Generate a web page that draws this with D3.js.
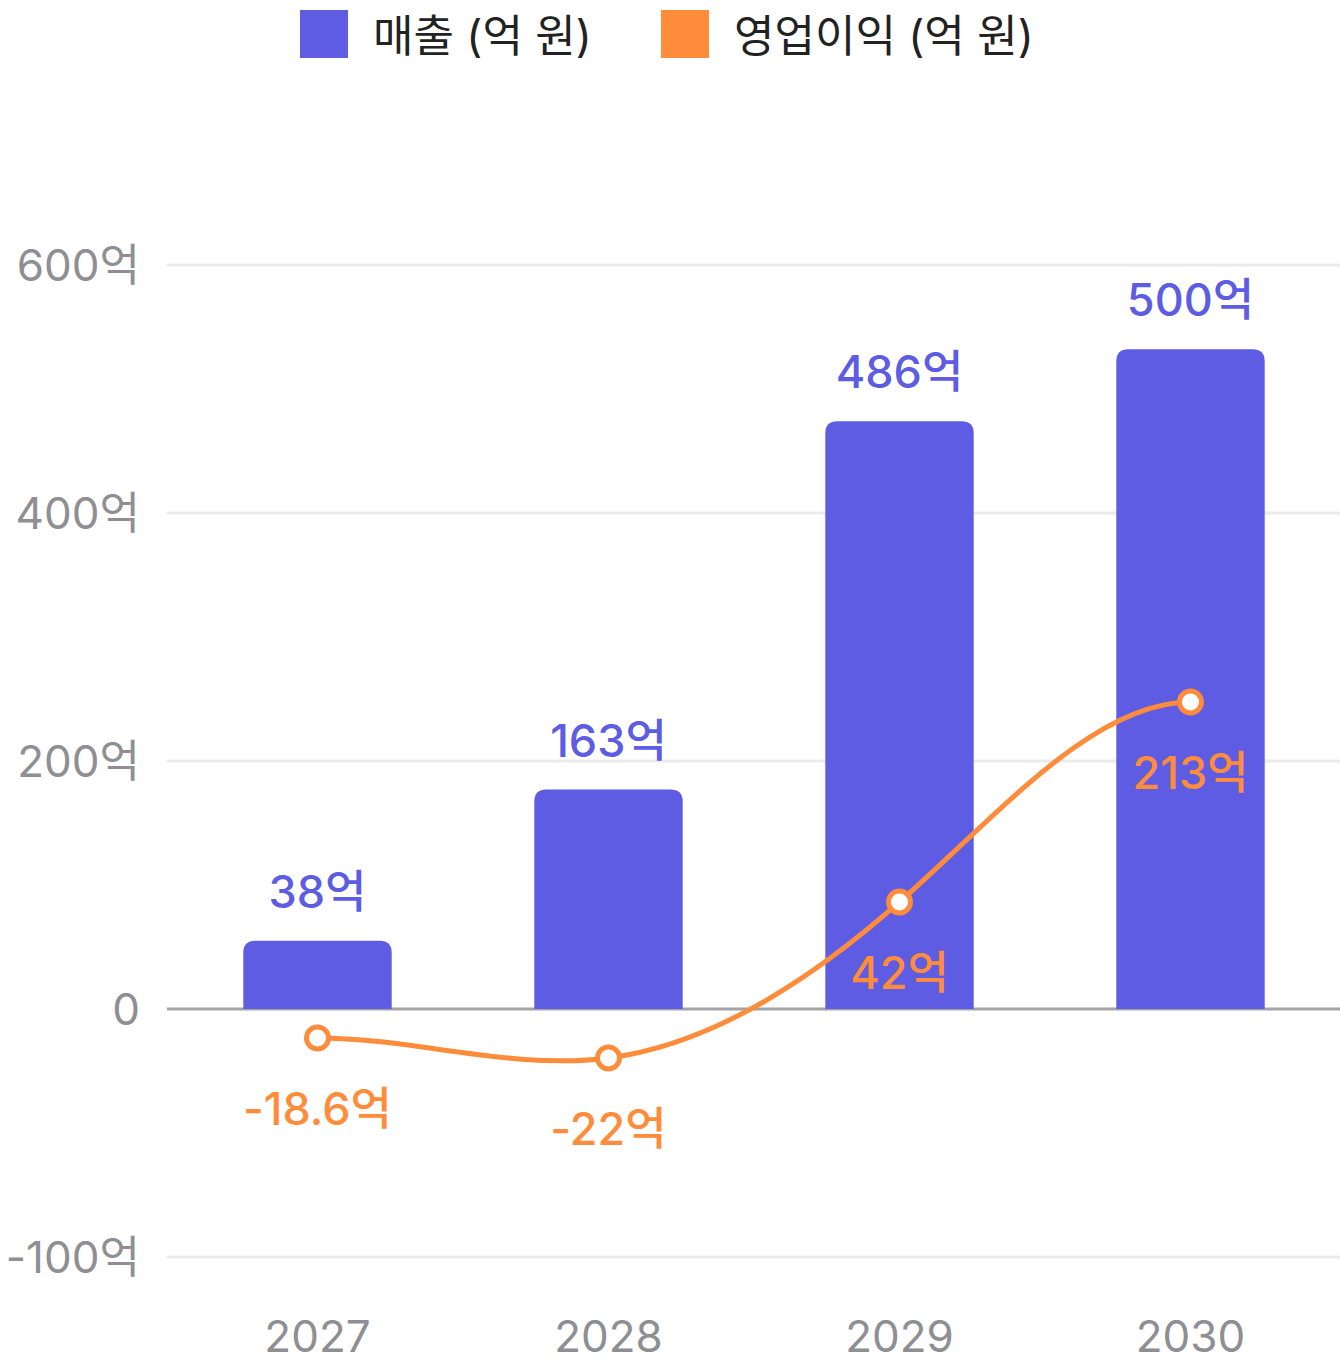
<!DOCTYPE html>
<html>
<head>
<meta charset="utf-8">
<script src="https://cdn.jsdelivr.net/npm/d3@7"></script>
<style>
    body { margin: 0; background: #fff; }
    svg { display: block; font-family: "Inter", "Noto Sans CJK KR", sans-serif; }
</style>
</head>
<body>
<svg id="chart"></svg>
<script>
const years = ['2027', '2028', '2029', '2030'];

// bar heights and line points as they sit on the axis
const revenue = [55, 177, 474, 532];
const profit = [-23.4, -39.5, 86.3, 247.6];

// value labels printed on the chart
const revenueLabels = ['38억', '163억', '486억', '500억'];
const profitLabels = ['-18.6억', '-22억', '42억', '213억'];

const tickValues = [600, 400, 200, 0, -200];
const tickLabels = ['600억', '400억', '200억', '0', '-100억'];

const seriesNames = ['매출 (억 원)', '영업이익 (억 원)'];
const seriesColors = ['#5D5CE3', '#FF8C3B'];

const width = 1340;
const height = 1368;

const svg = d3.select("#chart")
    .attr("width", width)
    .attr("height", height);

const x = d3.scaleBand()
    .domain(years)
    .range([172, 1336])
    .paddingInner(0.49)
    .paddingOuter(0.245);

const y = d3.scaleLinear()
    .domain([-200, 600])
    .range([1257, 265]);

// cubic spline with flat ends, used as a d3 line curve
function splineFlatEnds(context) {
    let pts = [];
    return {
        areaStart() {},
        areaEnd() {},
        lineStart() { pts = []; },
        point(px, py) { pts.push([+px, +py]); },
        lineEnd() {
            const n = pts.length;
            if (!n) return;
            context.moveTo(pts[0][0], pts[0][1]);
            if (n === 1) return;
            const h = [], s = [];
            for (let i = 0; i < n - 1; i++) {
                h.push(pts[i + 1][0] - pts[i][0]);
                s.push((pts[i + 1][1] - pts[i][1]) / h[i]);
            }
            // solve for slopes with m[0] = m[n-1] = 0
            const m = new Array(n).fill(0);
            const k = n - 2;
            if (k > 0) {
                const a = [], b = [], c = [], d = [];
                for (let j = 0; j < k; j++) {
                    const i = j + 1;
                    a.push(h[i]);
                    b.push(2 * (h[i - 1] + h[i]));
                    c.push(h[i - 1]);
                    d.push(3 * (h[i] * s[i - 1] + h[i - 1] * s[i]));
                }
                for (let j = 1; j < k; j++) {
                    const w = a[j] / b[j - 1];
                    b[j] -= w * c[j - 1];
                    d[j] -= w * d[j - 1];
                }
                m[k] = d[k - 1] / b[k - 1];
                for (let j = k - 2; j >= 0; j--) {
                    m[j + 1] = (d[j] - c[j] * m[j + 2]) / b[j];
                }
            }
            for (let i = 0; i < n - 1; i++) {
                const [x0, y0] = pts[i];
                const [x1, y1] = pts[i + 1];
                const dx = h[i] / 3;
                context.bezierCurveTo(x0 + dx, y0 + m[i] * dx, x1 - dx, y1 - m[i + 1] * dx, x1, y1);
            }
        }
    };
}

// gridlines
svg.append("g")
    .selectAll("line")
    .data(tickValues)
    .enter()
    .append("line")
    .attr("x1", 167)
    .attr("x2", width)
    .attr("y1", d => y(d))
    .attr("y2", d => y(d))
    .attr("stroke", d => d === 0 ? "#A3A3A8" : "#EBEBEB")
    .attr("stroke-width", 3);

// y tick labels
svg.append("g")
    .selectAll("text")
    .data(tickValues)
    .enter()
    .append("text")
    .attr("x", 140)
    .attr("y", d => y(d))
    .attr("dy", "0.36em")
    .attr("text-anchor", "end")
    .attr("fill", "#8E8E93")
    .style("font-size", "44px")
    .text((d, i) => tickLabels[i]);

// x tick labels
svg.append("g")
    .selectAll("text")
    .data(years)
    .enter()
    .append("text")
    .attr("x", d => x(d) + x.bandwidth() / 2)
    .attr("y", 1352)
    .attr("text-anchor", "middle")
    .attr("fill", "#8E8E93")
    .style("font-size", "44px")
    .text(d => d);

// bars with rounded tops
const r = 12;
function barPath(x0, w, yTop, yBase) {
    return `M${x0},${yBase}V${yTop + r}Q${x0},${yTop} ${x0 + r},${yTop}` +
        `H${x0 + w - r}Q${x0 + w},${yTop} ${x0 + w},${yTop + r}V${yBase}Z`;
}

svg.append("g")
    .selectAll("path")
    .data(revenue)
    .enter()
    .append("path")
    .attr("d", (d, i) => barPath(x(years[i]), x.bandwidth(), y(d), y(0)))
    .attr("fill", seriesColors[0]);

svg.append("g")
    .selectAll("text")
    .data(revenue)
    .enter()
    .append("text")
    .attr("x", (d, i) => x(years[i]) + x.bandwidth() / 2)
    .attr("y", d => y(d) - 33)
    .attr("text-anchor", "middle")
    .attr("fill", seriesColors[0])
    .style("font-size", "45px")
    .style("font-weight", 500)
    .text((d, i) => revenueLabels[i]);

// profit line
const lineX = (d, i) => x(years[i]) + x.bandwidth() / 2;

const line = d3.line()
    .x(lineX)
    .y(d => y(d))
    .curve(splineFlatEnds);

svg.append("path")
    .datum(profit)
    .attr("d", line)
    .attr("fill", "none")
    .attr("stroke", seriesColors[1])
    .attr("stroke-width", 5);

svg.append("g")
    .selectAll("circle")
    .data(profit)
    .enter()
    .append("circle")
    .attr("cx", lineX)
    .attr("cy", d => y(d))
    .attr("r", 11)
    .attr("fill", "#fff")
    .attr("stroke", seriesColors[1])
    .attr("stroke-width", 5);

svg.append("g")
    .selectAll("text")
    .data(profit)
    .enter()
    .append("text")
    .attr("x", lineX)
    .attr("y", d => y(d) + 87)
    .attr("text-anchor", "middle")
    .attr("fill", seriesColors[1])
    .style("font-size", "45px")
    .style("font-weight", 500)
    .text((d, i) => profitLabels[i]);

// legend
const legendX = [300, 661];
const legend = svg.append("g")
    .selectAll("g")
    .data(seriesNames)
    .enter()
    .append("g")
    .attr("transform", (d, i) => `translate(${legendX[i]}, 10)`);

legend.append("rect")
    .attr("width", 48)
    .attr("height", 48)
    .attr("fill", (d, i) => seriesColors[i]);

legend.append("text")
    .attr("x", 73)
    .attr("y", 42)
    .attr("fill", "#222")
    .style("font-size", "44px")
    .text(d => d);
</script>
</body>
</html>
